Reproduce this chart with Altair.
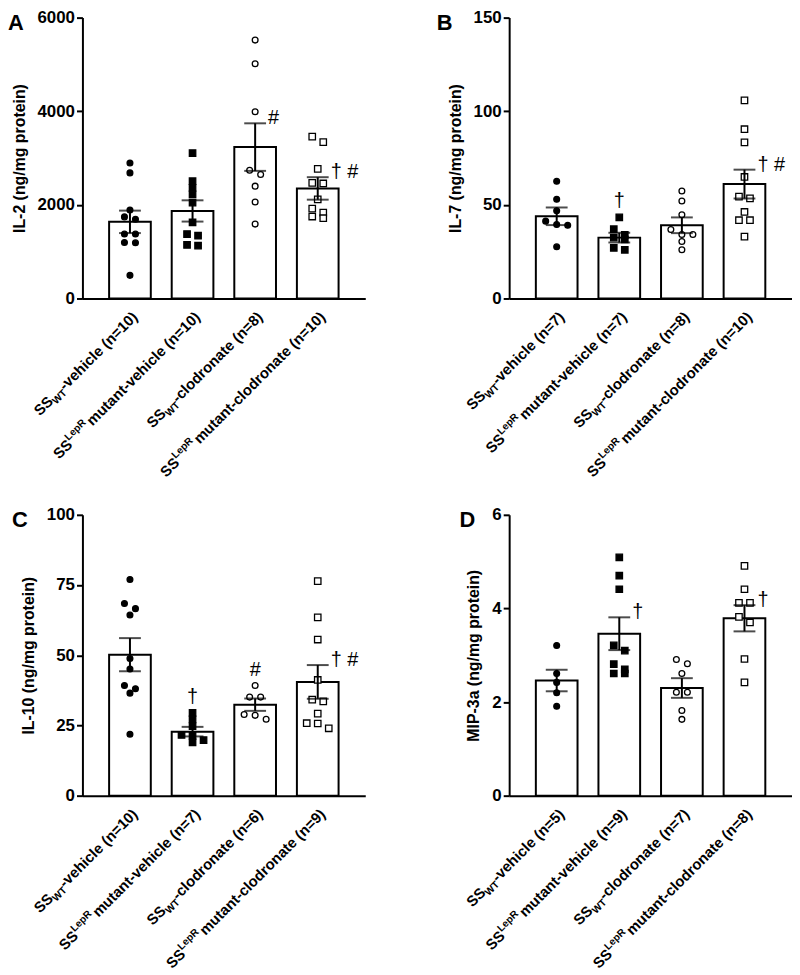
import altair as alt
import pandas as pd
import math

FONT = "Liberation Sans"

# ---------------- data ----------------
PANEL_LETTERS = ["A", "B", "C", "D"]
Y_TITLES = ["IL-2 (ng/mg protein)", "IL-7 (ng/mg protein)",
            "IL-10 (ng/mg protein)", "MIP-3a (ng/mg protein)"]
Y_MAX = [6000, 150, 100, 6]
Y_TICKS = [[0, 2000, 4000, 6000], [0, 50, 100, 150],
           [0, 25, 50, 75, 100], [0, 2, 4, 6]]

GROUP_STRAIN = ["WT", "LepR", "WT", "LepR"]
GROUP_TREAT = ["vehicle", "vehicle", "clodronate", "clodronate"]

N_COUNTS = [[10, 10, 8, 10], [7, 7, 8, 10], [10, 7, 6, 9], [5, 9, 7, 8]]

IL2_MEAN = [1637, 1870, 3234, 2351]
IL2_SEM = [240, 227, 508, 240]
IL2_PTS = [
    [2895, 2683, 1892, 1743, 1694, 1377, 1377, 1197, 1190, 494],
    [3107, 2506, 2365, 2224, 2048, 1624, 1377, 1341, 1144, 1129],
    [5520, 5013, 3988, 2739, 2648, 2400, 2061, 1589],
    [3459, 3340, 2768, 2471, 2457, 2118, 1921, 1836, 1751, 1715],
]

IL7_MEAN = [43.9, 32.5, 39.1, 61.1]
IL7_SEM = [4.7, 2.6, 4.2, 7.7]
IL7_PTS = [
    [62.6, 53.0, 46.8, 41.3, 39.5, 39.1, 27.6],
    [43.3, 37.0, 34.0, 32.5, 31.5, 27.0, 26.0],
    [57.4, 52.1, 44.7, 36.8, 34.2, 34.2, 30.4, 26.0],
    [105.8, 90.4, 83.4, 64.9, 54.4, 53.5, 46.2, 41.8, 41.8, 33.0],
]

IL10_MEAN = [50.2, 22.8, 32.4, 40.5]
IL10_SEM = [5.9, 1.7, 2.2, 6.0]
IL10_PTS = [
    [77.0, 68.4, 66.6, 64.3, 48.8, 45.1, 39.2, 38.1, 36.5, 21.9],
    [29.5, 27.2, 24.8, 21.6, 21.3, 19.8, 19.0],
    [39.2, 35.1, 35.1, 28.9, 28.6, 27.2],
    [76.4, 63.5, 55.6, 41.2, 34.2, 33.6, 29.2, 25.8, 25.7, 24.0],
]

MIP_MEAN = [2.46, 3.46, 2.30, 3.79]
MIP_SEM = [0.23, 0.35, 0.21, 0.28]
MIP_PTS = [
    [3.21, 2.61, 2.42, 2.20, 1.91],
    [5.09, 4.70, 4.41, 3.21, 3.10, 2.81, 2.70, 2.61, 2.61],
    [2.91, 2.82, 2.61, 2.21, 2.21, 1.82, 1.63],
    [4.91, 4.41, 4.12, 4.12, 3.82, 3.70, 2.92, 2.42],
]

# significance marks: (group index, symbol text)
SIG_RIGHT = [[(2, "#"), (3, "† #")], [(3, "† #")], [(3, "† #")], [(1, "†"), (3, "†")]]
SIG_ABOVE = [[], [(1, "†")], [(1, "†"), (2, "#")], []]

MEANS = [IL2_MEAN, IL7_MEAN, IL10_MEAN, MIP_MEAN]
SEMS = [IL2_SEM, IL7_SEM, IL10_SEM, MIP_SEM]
POINTS = [IL2_PTS, IL7_PTS, IL10_PTS, MIP_PTS]

# ---------------- style ----------------
GROUP_SHAPE = ["circle", "square", "circle", "square"]
GROUP_FILL = ["black", "black", "white", "white"]
GROUP_SIZE = [34, 42, 34, 42]
LETTER_OFFSET = [75, 73, 71, 50]

W, H = 285, 283
X_DOMAIN = [-0.68, 3.68]
STEP = W / (X_DOMAIN[1] - X_DOMAIN[0])
LABEL_FS = 15
SUB_RATIO = 0.68
CAP = 0.716 * LABEL_FS
LABEL_OFF = (1, 12)  # screen offset of label's top-right corner from tick

# Arial/Liberation Sans Bold advance widths (per 1000 em)
AW = {" ": 278, "(": 333, ")": 333, "-": 333, "=": 584, "S": 667, "W": 944,
      "T": 611, "L": 611, "R": 722, "a": 556, "c": 556, "d": 611, "e": 556,
      "h": 611, "i": 278, "l": 278, "m": 889, "n": 611, "o": 611, "p": 611,
      "r": 389, "t": 333, "u": 611, "v": 556}
for dgt in "0123456789":
    AW[dgt] = 556


def text_width(s, size):
    return sum(AW.get(c, 556) for c in s) * size / 1000.0


def beeswarm(vals, ymax):
    ppu = H / ymax
    order = sorted(range(len(vals)), key=lambda k: -vals[k])
    rows = []
    for k in order:
        if rows and (vals[rows[-1][0]] - vals[k]) * ppu < 6:
            rows[-1].append(k)
        else:
            rows.append([k])
    offs = [0.0] * len(vals)
    for r in rows:
        m = len(r)
        for j, k in enumerate(r):
            offs[k] = (j - (m - 1) / 2) * 11.5
    return offs


ONE = pd.DataFrame({"k": [0]})


def label_layers(p):
    layers = []
    c = math.sqrt(0.5)
    ox, oy = LABEL_OFF
    a = ox * c - oy * c
    b = ox * c + oy * c
    for i in range(4):
        n = N_COUNTS[p][i]
        if GROUP_STRAIN[i] == "WT":
            pieces = [("SS", LABEL_FS, 0.0, 0.0),
                      ("WT", LABEL_FS * SUB_RATIO, 0.22 * LABEL_FS, 0.0),
                      (f"-{GROUP_TREAT[i]} (n={n})", LABEL_FS, 0.0, 0.0)]
        else:
            pieces = [("SS", LABEL_FS, 0.0, 0.0),
                      ("LepR", LABEL_FS * SUB_RATIO, -0.45 * LABEL_FS, 2.0),
                      (f"mutant-{GROUP_TREAT[i]} (n={n})", LABEL_FS, 0.0, 0.0)]
        total = sum(text_width(t, s) + g for t, s, _, g in pieces)
        cur = -total
        for t, s, shift, gap in pieces:
            layers.append(
                alt.Chart(ONE).mark_text(
                    angle=315, align="left", baseline="alphabetic",
                    fontSize=s, fontWeight="bold", font=FONT, color="black",
                    dx=a + cur, dy=b + CAP + shift,
                ).encode(x=alt.datum(i), y=alt.value(H), text=alt.value(t))
            )
            cur += text_width(t, s) + gap
    return layers


def panel(p):
    ymax = Y_MAX[p]
    xscale = alt.Scale(domain=X_DOMAIN, nice=False, zero=False)
    yscale = alt.Scale(domain=[0, ymax], nice=False)
    xaxis = alt.Axis(title=None, labels=False, ticks=False, grid=False,
                     domainWidth=2, domainColor="black")
    yaxis = alt.Axis(title=Y_TITLES[p], values=Y_TICKS[p], grid=False,
                     tickSize=6, tickWidth=2, tickColor="black",
                     domainWidth=2, domainColor="black",
                     labelFontSize=17, labelFontWeight="bold", labelColor="black",
                     labelFont=FONT, labelPadding=2, labelFlush=False,
                     titleFontSize=16, titleFontWeight="bold", titleColor="black",
                     titleFont=FONT, titlePadding=10, format="d")

    def X(f):
        return alt.X(f, scale=xscale, axis=xaxis)

    def Y(f):
        return alt.Y(f, scale=yscale, axis=yaxis)

    bar_df = pd.DataFrame({
        "idx": list(range(4)),
        "mean": MEANS[p],
        "lo": [m - s for m, s in zip(MEANS[p], SEMS[p])],
        "hi": [m + s for m, s in zip(MEANS[p], SEMS[p])],
        "zero": [0] * 4,
    })
    cap_rows = []
    for i in range(4):
        cap_rows.append({"idx": i, "v": MEANS[p][i] + SEMS[p][i]})
        cap_rows.append({"idx": i, "v": MEANS[p][i] - SEMS[p][i]})
    cap_df = pd.DataFrame(cap_rows)

    pt_rows = []
    for i in range(4):
        vals = POINTS[p][i]
        offs = beeswarm(vals, ymax)
        for v, o in zip(vals, offs):
            pt_rows.append({"xpos": i + o / STEP, "value": v,
                            "shape": GROUP_SHAPE[i], "fill": GROUP_FILL[i],
                            "sz": GROUP_SIZE[i]})
    pt_df = pd.DataFrame(pt_rows)

    bars = alt.Chart(bar_df).mark_bar(
        size=42, fill="white", stroke="black", strokeWidth=2, orient="vertical"
    ).encode(x=X("idx:Q"), y=Y("mean:Q"), y2="zero:Q")

    err = alt.Chart(bar_df).mark_rule(color="black", strokeWidth=2).encode(
        x=X("idx:Q"), y=Y("lo:Q"), y2="hi:Q")

    caps = alt.Chart(cap_df).mark_tick(
        orient="horizontal", size=22, thickness=2, color="black"
    ).encode(x=X("idx:Q"), y=Y("v:Q"))

    pts = alt.Chart(pt_df).mark_point(
        stroke="black", strokeWidth=1.3, opacity=1, fillOpacity=1
    ).encode(x=X("xpos:Q"), y=Y("value:Q"),
             shape=alt.Shape("shape:N", scale=None),
             fill=alt.Fill("fill:N", scale=None),
             size=alt.Size("sz:Q", scale=None))

    layers = [bars, pts, err, caps]

    if SIG_RIGHT[p]:
        right_df = pd.DataFrame([{"idx": i, "v": MEANS[p][i] + SEMS[p][i], "t": t}
                                 for i, t in SIG_RIGHT[p]])
        layers.append(alt.Chart(right_df).mark_text(
            align="left", baseline="middle", dx=13, dy=-5, fontSize=20,
            font=FONT, color="black"
        ).encode(x=X("idx:Q"), y=Y("v:Q"), text="t:N"))
    if SIG_ABOVE[p]:
        above_df = pd.DataFrame([{"idx": i, "v": max(POINTS[p][i]), "t": t}
                                 for i, t in SIG_ABOVE[p]])
        layers.append(alt.Chart(above_df).mark_text(
            align="center", baseline="bottom", dy=-6, fontSize=20,
            font=FONT, color="black"
        ).encode(x=X("idx:Q"), y=Y("v:Q"), text="t:N"))

    letter = alt.Chart(ONE).mark_text(
        align="left", baseline="middle", fontSize=22, fontWeight="bold",
        font=FONT, color="black"
    ).encode(x=alt.value(-LETTER_OFFSET[p]), y=alt.value(5),
             text=alt.value(PANEL_LETTERS[p]))
    layers.append(letter)
    layers += label_layers(p)

    return alt.layer(*layers).properties(width=W, height=H)


chart = alt.concat(
    *[panel(p) for p in range(4)], columns=2,
    spacing={"row": 26, "column": 72}
).properties(
    padding={"left": 0, "top": -3, "right": 0, "bottom": 0}
).configure(
    font=FONT, view=alt.ViewConfig(stroke=None)
)

chart.save("out.html", embed_options={"renderer": "svg", "actions": False})
